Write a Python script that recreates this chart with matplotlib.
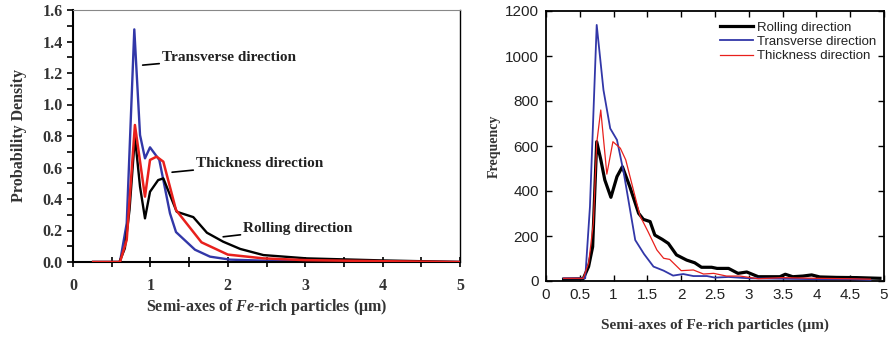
import matplotlib
matplotlib.use("Agg")
import matplotlib.pyplot as plt
from matplotlib.ticker import MultipleLocator, FormatStrFormatter

plt.rcParams['mathtext.fontset'] = 'custom'
plt.rcParams['mathtext.rm'] = 'Liberation Serif:bold'
plt.rcParams['mathtext.it'] = 'Liberation Serif:italic:bold'
plt.rcParams['mathtext.bf'] = 'Liberation Serif:bold'

# ---------------- Left panel data (probability density) ----------------
pd_roll_x = [0.26, 0.6, 0.67, 0.73, 0.80, 0.866, 0.93, 0.995, 1.10, 1.167, 1.34, 1.554, 1.73, 1.94, 2.16, 2.46, 3.02, 4.0, 5.0]
pd_roll_y = [0, 0, 0.087, 0.33, 0.796, 0.478, 0.277, 0.446, 0.52, 0.531, 0.319, 0.285, 0.186, 0.129, 0.083, 0.044, 0.023, 0.01, 0.0]
pd_trans_x = [0.26, 0.607, 0.694, 0.792, 0.866, 0.93, 0.995, 1.115, 1.253, 1.331, 1.576, 1.77, 2.03, 2.5, 3.0, 4.0, 5.0]
pd_trans_y = [0, 0, 0.246, 1.477, 0.806, 0.658, 0.728, 0.648, 0.309, 0.19, 0.078, 0.034, 0.015, 0.008, 0.005, 0.003, 0.0]
pd_thick_x = [0.26, 0.607, 0.694, 0.80, 0.93, 0.995, 1.08, 1.167, 1.331, 1.66, 2.0, 2.46, 3.0, 4.0, 5.0]
pd_thick_y = [0, 0, 0.14, 0.87, 0.415, 0.648, 0.669, 0.637, 0.33, 0.125, 0.047, 0.023, 0.012, 0.005, 0.0]

# ---------------- Right panel data (frequency) ----------------
fr_roll_x = [0.26, 0.55, 0.63, 0.69, 0.75, 0.81, 0.87, 0.96, 1.05, 1.13, 1.24, 1.37, 1.44, 1.54, 1.61, 1.72, 1.81, 1.93,
             2.08, 2.20, 2.30, 2.45, 2.53, 2.70, 2.84, 2.97, 3.14, 3.30, 3.46, 3.54, 3.65, 3.80, 3.93, 4.05, 4.3, 4.6, 4.94]
fr_roll_y = [8, 10, 64, 152, 619, 540, 449, 372, 464, 508, 419, 301, 274, 264, 204, 185, 167, 116,
             93, 81, 61, 61, 56, 56, 34, 40, 19, 19, 19, 30, 19, 22, 27, 18, 16, 15, 12]
fr_trans_x = [0.26, 0.58, 0.65, 0.75, 0.85, 0.95, 1.05, 1.15, 1.32, 1.45, 1.59, 1.74, 1.88, 2.03, 2.18, 2.38, 2.50, 2.70,
              3.0, 3.5, 4.0, 4.5, 4.8]
fr_trans_y = [12, 12, 330, 1138, 849, 678, 627, 481, 182, 120, 64, 46, 24, 31, 22, 22, 15, 18,
              12, 10, 8, 8, 5]
fr_thick_x = [0.26, 0.55, 0.63, 0.70, 0.75, 0.81, 0.90, 0.99, 1.10, 1.18, 1.39, 1.51, 1.64, 1.74, 1.83, 2.0, 2.18, 2.33,
              2.48, 2.67, 2.87, 3.14, 3.5, 4.0, 4.5, 4.8]
fr_thick_y = [12, 12, 78, 256, 612, 760, 475, 619, 590, 538, 290, 219, 138, 101, 96, 46, 49, 31,
              34, 22, 22, 10, 15, 12, 10, 8]

series_names = ['Rolling direction', 'Transverse direction', 'Thickness direction']
left_yticks = [0.0, 0.2, 0.4, 0.6, 0.8, 1.0, 1.2, 1.4, 1.6]
left_xticks = [0, 1, 2, 3, 4, 5]
right_yticks = [0, 200, 400, 600, 800, 1000, 1200]
right_xticks = [0, 0.5, 1, 1.5, 2, 2.5, 3, 3.5, 4, 4.5, 5]
right_xticklabels = ['0', '0.5', '1', '1.5', '2', '2.5', '3', '3.5', '4', '4.5', '5']

BLUE = '#3237a8'
RED = '#e8201c'
BLACK = '#000000'

fig = plt.figure(figsize=(8.94, 3.38), dpi=100)

# ---------------- Left axes ----------------
serif = 'Liberation Serif'
ax1 = fig.add_axes([73/894, 1-262/338, (460-73)/894, (262-10)/338])
ax1.plot(pd_trans_x, pd_trans_y, color=BLUE, lw=1.7, zorder=2)
ax1.plot(pd_roll_x, pd_roll_y, color=BLACK, lw=1.7, zorder=3)
ax1.plot(pd_thick_x, pd_thick_y, color=RED, lw=1.8, zorder=4)
ax1.set_xlim(0, 5)
ax1.set_ylim(0, 1.6)
ax1.set_yticks(left_yticks)
ax1.set_xticks(left_xticks)
ax1.yaxis.set_major_formatter(FormatStrFormatter('%.1f'))
ax1.xaxis.set_major_formatter(FormatStrFormatter('%d'))
ax1.yaxis.set_minor_locator(MultipleLocator(0.1))
ax1.xaxis.set_minor_locator(MultipleLocator(0.5))
ax1.tick_params(axis='y', which='both', direction='out', length=4, width=1.2)
ax1.tick_params(axis='x', which='both', direction='inout', length=7, width=1.2, pad=8)
for lab in ax1.get_xticklabels() + ax1.get_yticklabels():
    lab.set_fontfamily(serif)
    lab.set_fontweight('bold')
    lab.set_fontsize(11.5)
    lab.set_color('#333333')
ax1.spines['left'].set_linewidth(1.5)
ax1.spines['bottom'].set_linewidth(1.5)
ax1.spines['top'].set_linewidth(0.8)
ax1.spines['top'].set_color('#888888')
ax1.spines['right'].set_linewidth(1.0)
ax1.set_ylabel('Probability Density', fontfamily=serif, fontweight='bold', fontsize=11.5, color='#333333', labelpad=11)
ax1.set_xlabel('Semi-axes of $\\mathit{Fe}$-rich particles (μm)', fontfamily=serif, fontweight='bold',
               fontsize=11.5, color='#333333', labelpad=2)

ann_kw = dict(fontfamily=serif, fontweight='bold', fontsize=11, color='#222222', va='center', ha='left',
              arrowprops=dict(arrowstyle='-', color='black', lw=1.2, shrinkA=0, shrinkB=0))
ax1.annotate('Transverse direction', xy=(0.90, 1.25), xytext=(1.15, 1.30), **ann_kw)
ax1.annotate('Thickness direction', xy=(1.28, 0.57), xytext=(1.59, 0.625), **ann_kw)
ax1.annotate('Rolling direction', xy=(1.94, 0.16), xytext=(2.20, 0.215), **ann_kw)

# ---------------- Right axes ----------------
sans = 'Liberation Sans'
ax2 = fig.add_axes([546/894, 1-281/338, (884-546)/894, (281-11)/338])
ax2.plot(fr_roll_x, fr_roll_y, color=BLACK, lw=2.3, label=series_names[0], zorder=2)
ax2.plot(fr_trans_x, fr_trans_y, color=BLUE, lw=1.3, label=series_names[1], zorder=3)
ax2.plot(fr_thick_x, fr_thick_y, color=RED, lw=0.9, label=series_names[2], zorder=4)
ax2.set_xlim(0, 5)
ax2.set_ylim(0, 1200)
ax2.set_yticks(right_yticks)
ax2.set_xticks(right_xticks)
ax2.set_xticklabels(right_xticklabels)
ax2.tick_params(which='both', direction='in', top=True, right=True, length=4, width=1.0,
                labelsize=11, pad=5)
for lab in ax2.get_xticklabels() + ax2.get_yticklabels():
    lab.set_fontfamily(sans)
    lab.set_color('#222222')
for s in ax2.spines.values():
    s.set_linewidth(1.3)
ax2.set_ylabel('Frequency', fontfamily=serif, fontweight='bold', fontsize=10, color='#333333', labelpad=3)
ax2.set_xlabel('Semi-axes of Fe-rich particles (μm)', fontfamily=serif, fontweight='bold', fontsize=11,
               color='#333333', labelpad=12)
leg = ax2.legend(loc='upper right', frameon=False, prop={'family': sans, 'size': 9.5},
                 handlelength=2.5, handletextpad=0.3, labelspacing=0.15, borderaxespad=0.2,
                 bbox_to_anchor=(1.0, 0.99))
for t in leg.get_texts():
    t.set_color('#222222')

fig.savefig('out.png', dpi=100)
